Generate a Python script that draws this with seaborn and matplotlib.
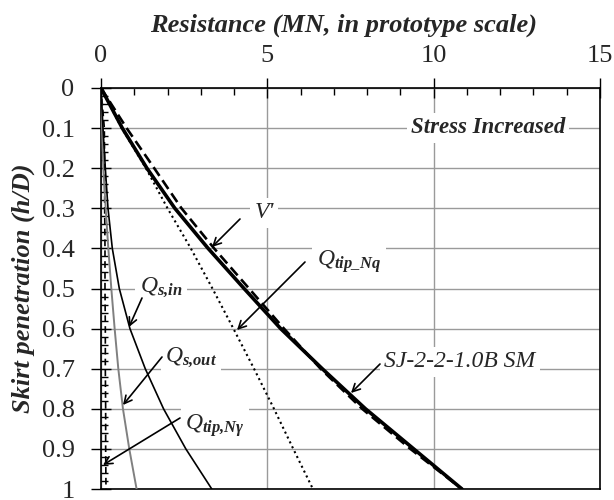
import numpy as np
import pandas as pd
import matplotlib
matplotlib.use("Agg")
import matplotlib.pyplot as plt
import seaborn as sns
from matplotlib.ticker import MultipleLocator

# ---- data ----
penetration = [0.0, 0.1, 0.2, 0.3, 0.4, 0.5, 0.6, 0.7, 0.8, 0.9, 1.0]
sj_measured = [0.0, 0.64, 1.38, 2.22, 3.22, 4.3, 5.4, 6.65, 7.95, 9.4, 10.85]
v_prime = [0.0, 0.77, 1.6, 2.42, 3.4, 4.45, 5.5, 6.6, 7.85, 9.3, 10.85]
q_tip_nq = [0.0, 0.62, 1.35, 2.0, 2.7, 3.35, 3.98, 4.6, 5.2, 5.78, 6.37]
q_s_in = [0.0, 0.06, 0.13, 0.21, 0.34, 0.55, 0.87, 1.33, 1.88, 2.55, 3.33]
q_s_out = [0.0, 0.03, 0.07, 0.14, 0.22, 0.31, 0.41, 0.52, 0.66, 0.85, 1.07]
q_tip_ng = [0.0, 0.1, 0.11, 0.11, 0.12, 0.12, 0.13, 0.13, 0.14, 0.14, 0.15]

x_ticks = [0, 5, 10, 15]
y_ticks = [0, 0.1, 0.2, 0.3, 0.4, 0.5, 0.6, 0.7, 0.8, 0.9, 1]
y_tick_labels = ["0", "0.1", "0.2", "0.3", "0.4", "0.5", "0.6", "0.7", "0.8", "0.9", "1"]

sns.set_style("white")
plt.rcParams["font.family"] = ["Liberation Serif", "DejaVu Serif"]
plt.rcParams["mathtext.fontset"] = "custom"
plt.rcParams["mathtext.rm"] = "Liberation Serif"
plt.rcParams["mathtext.it"] = "Liberation Serif:italic"
plt.rcParams["mathtext.bf"] = "Liberation Serif:italic:bold"

fig = plt.figure(figsize=(6.14, 5.0), dpi=100)
ax = fig.add_axes([101 / 614, 1 - 489 / 500, 499 / 614, 401 / 500])

def curve(xs, **kw):
    df = pd.DataFrame({"x": xs, "y": penetration})
    sns.lineplot(data=df, x="x", y="y", sort=False, estimator=None, ax=ax, **kw)

curve(q_tip_ng, color="black", lw=1.2, linestyle=(0, (4, 2.5)), zorder=4)
curve(q_s_out, color="#808080", lw=1.4, zorder=4)
curve(q_s_in, color="black", lw=1.2, zorder=4)
curve(q_tip_nq, color="black", lw=1.5, linestyle=(0, (1, 1.6)), zorder=4)
curve(v_prime, color="black", lw=1.9, linestyle=(0, (4, 2)), zorder=5)
curve(sj_measured, color="black", lw=2.6, zorder=6)

ax.set_xlim(0, 15)
ax.set_ylim(1, 0)
ax.xaxis.tick_top()
ax.xaxis.set_label_position("top")
ax.set_xticks(x_ticks)
ax.set_yticks(y_ticks)
ax.set_yticklabels(y_tick_labels)
ax.xaxis.set_minor_locator(MultipleLocator(1))
ax.yaxis.set_minor_locator(MultipleLocator(0.02))
ax.tick_params(which="major", direction="inout", length=14, width=1.0, labelsize=19,
               top=True, bottom=False, left=True, right=False, color="black")
ax.tick_params(axis="x", which="major", pad=8)
ax.tick_params(axis="y", which="major", pad=12)
ax.tick_params(which="minor", direction="in", length=5, width=1.0,
               top=True, bottom=False, left=True, right=False, color="black")
ax.grid(True, which="major", color="#9a9a9a", lw=1.0, zorder=0)
ax.set_axisbelow(True)
for s in ax.spines.values():
    s.set_color("black")
    s.set_linewidth(1.2)

ax.set_xlabel("Resistance (MN, in prototype scale)", fontsize=19, fontweight="bold",
              fontstyle="italic")
ax.xaxis.set_label_coords(0.487, 1.14)
ax.set_ylabel("Skirt penetration (h/D)", fontsize=19, fontweight="bold",
              fontstyle="italic", labelpad=5)

box = dict(facecolor="white", edgecolor="none", pad=3)
arrow = dict(arrowstyle="->,head_length=0.55,head_width=0.28", color="black", lw=1.2,
             shrinkA=0, shrinkB=0)

def px(xp, yp):
    return ((xp - 101) / (499 / 15), (yp - 88) / 401)

def label(text, pos, **kw):
    ax.text(*px(*pos), text, ha="center", va="center", zorder=3, bbox=box, **kw)

def arr(start, end):
    ax.annotate("", xy=px(*end), xytext=px(*start), arrowprops=arrow, zorder=8)

label("Stress Increased", (488, 128), fontsize=16.5, fontweight="bold", fontstyle="italic")
label("V'", (264, 213), fontsize=17, fontstyle="italic")
label(r"$Q_{\mathbf{tip\_Nq}}$", (349, 262), fontsize=17)
label(r"$Q_{\mathbf{s{,}in}}$", (161, 287), fontsize=17)
label(r"$Q_{\mathbf{s{,}out}}$", (191, 357), fontsize=17)
label(r"$Q_{\mathbf{tip{,}N\gamma}}$", (215, 426), fontsize=17)
label("SJ-2-2-1.0B SM", (460, 362), fontsize=17, fontstyle="italic")

arr((240, 219), (212, 247))
arr((305, 262), (237, 330))
arr((142, 298), (129, 327))
arr((162, 357), (123, 405))
arr((180, 418), (103, 465))
arr((380, 364), (351, 393))

fig.savefig("out.png", dpi=100)
